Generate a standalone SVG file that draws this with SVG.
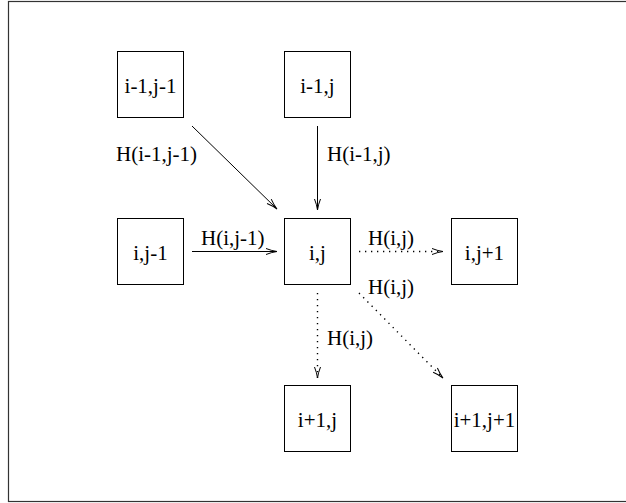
<svg xmlns="http://www.w3.org/2000/svg" width="626" height="503" viewBox="0 0 626 503">
<style>
.box{fill:#fff;stroke:#000;stroke-width:1}
.lbl{font-family:"Liberation Serif","DejaVu Serif",serif;font-size:21px;fill:#000}
.c{text-anchor:middle}
.edge{stroke:#000;stroke-width:1;fill:none}
.dot{stroke-width:1.4;stroke-dasharray:1.3,4.7}
</style>
<defs>
<marker id="ah" markerUnits="userSpaceOnUse" markerWidth="14" markerHeight="10" viewBox="-12 -5 14 10" refX="0" refY="0" orient="auto">
<path d="M-11,-3 Q-5,-0.6 0,0 Q-5,0.6 -11,3" fill="none" stroke="#000" stroke-width="1"/>
</marker>
</defs>
<rect x="8.5" y="1.5" width="640" height="500" fill="#fff" stroke="#333" stroke-width="1.2"/>
<g id="n_im1_jm1"><rect class="box" x="117.5" y="51.5" width="66" height="66"/><text class="lbl c" x="150.5" y="93">i-1,j-1</text></g>
<g id="n_im1_j"><rect class="box" x="284.5" y="51.5" width="66" height="66"/><text class="lbl c" x="317.5" y="93">i-1,j</text></g>
<g id="n_i_jm1"><rect class="box" x="117.5" y="218.5" width="66" height="66"/><text class="lbl c" x="150.5" y="260">i,j-1</text></g>
<g id="n_i_j"><rect class="box" x="284.5" y="218.5" width="66" height="66"/><text class="lbl c" x="317.5" y="260">i,j</text></g>
<g id="n_i_jp1"><rect class="box" x="451.5" y="218.5" width="66" height="66"/><text class="lbl c" x="484.5" y="260">i,j+1</text></g>
<g id="n_ip1_j"><rect class="box" x="284.5" y="385.5" width="66" height="66"/><text class="lbl c" x="317.5" y="427">i+1,j</text></g>
<g id="n_ip1_jp1"><rect class="box" x="451.5" y="385.5" width="66" height="66"/><text class="lbl c" x="484.5" y="427">i+1,j+1</text></g>
<g id="connectors">
<line class="edge" x1="192" y1="126" x2="277" y2="209" marker-end="url(#ah)"/>
<line class="edge" x1="317.5" y1="126" x2="317.5" y2="210" marker-end="url(#ah)"/>
<line class="edge" x1="192" y1="251.5" x2="277" y2="251.5" marker-end="url(#ah)"/>
<line class="edge dot" x1="359" y1="251.5" x2="443" y2="251.5" marker-end="url(#ah)"/>
<line class="edge dot" x1="317.5" y1="293" x2="317.5" y2="378" marker-end="url(#ah)"/>
<line class="edge dot" x1="359" y1="293" x2="443" y2="378" marker-end="url(#ah)"/>
<text class="lbl c" x="156.5" y="161">H(i-1,j-1)</text>
<text class="lbl" x="327" y="161">H(i-1,j)</text>
<text class="lbl" x="201" y="245">H(i,j-1)</text>
<text class="lbl" x="368" y="245">H(i,j)</text>
<text class="lbl" x="368" y="294">H(i,j)</text>
<text class="lbl" x="327" y="345">H(i,j)</text>
</g>
</svg>
